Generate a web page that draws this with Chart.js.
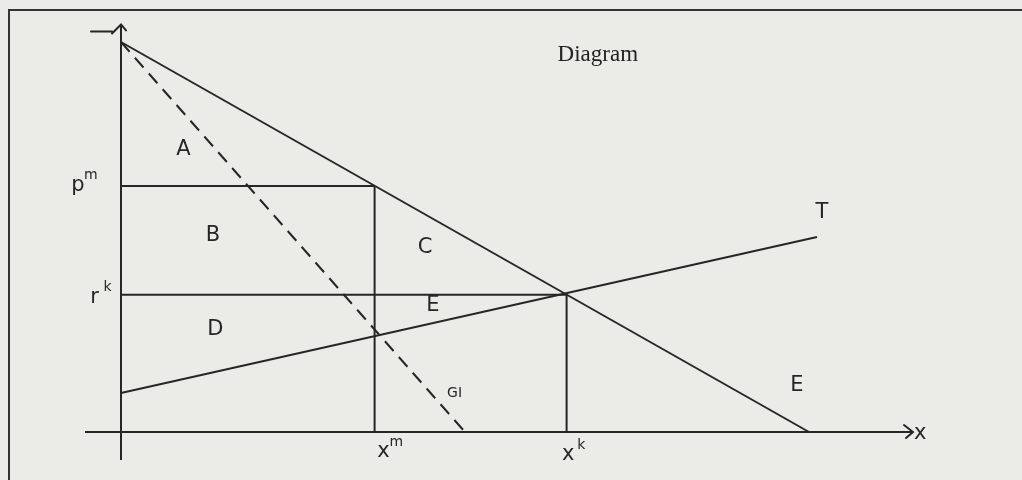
<!DOCTYPE html>
<html>
<head>
<meta charset="utf-8">
<script src="https://cdn.jsdelivr.net/npm/chart.js@4.4.1/dist/chart.umd.min.js"></script>
<style>
  html, body { margin: 0; padding: 0; background: #ebebe8; }
  #wrap { width: 1022px; height: 480px; }
</style>
</head>
<body>
<div id="wrap"><canvas id="c" width="1022" height="480"></canvas></div>
<script>
// ---- data (economic units: quantity x, price y) ----
const demandX = [0, 8.6];
const demandY = [10, 0];
const giX = [0, 4.3];
const giY = [10, 0];
const tX = [0, 8.7];
const tY = [1.0, 5.0];
const pm = 6.31;      // monopoly price
const xm = 3.17;      // monopoly quantity
const rk = 3.52;      // price r^k
const xk = 5.57;      // quantity x^k
const yAxisX = [0, 0];
const yAxisY = [-0.72, 10.45];
const xAxisX = [-0.45, 9.9];
const xAxisY = [0, 0];

const labelText = ['A', 'B', 'C', 'D', 'E', 'E', 'T', 'GI', 'p', 'r', 'x', 'x', 'x'];
const labelSup  = ['',  '',  '',  '',  '',  '',  '',  '',   'm', 'k', 'm', 'k', ''];
const labelX    = [0.78, 1.15, 3.8, 1.18, 3.9, 8.45, 8.76, 4.17, -0.54, -0.33, 3.28, 5.59, 9.99];
const labelY    = [7.23, 5.05, 4.74, 2.62, 3.23, 1.2, 5.62, 1.0, 6.33, 3.46, -0.51, -0.59, -0.05];
const titleText = 'Diagram';
const titleX = 5.96;
const titleY = 9.67;

const ink = '#262626';
function seg(xs, ys) { return xs.map((x, i) => ({ x: x, y: ys[i] })); }
function line(data, extra) {
  return Object.assign({ data: data, showLine: true, borderColor: ink, borderWidth: 2,
    pointRadius: 0, clip: false, fill: false }, extra || {});
}

const datasets = [
  line(seg(yAxisX, yAxisY)),
  line(seg(xAxisX, xAxisY)),
  line(seg(demandX, demandY)),
  line(seg(giX, giY), { borderDash: [13, 8] }),
  line(seg(tX, tY), { borderWidth: 1.8 }),
  line(seg([0, xm], [pm, pm])),
  line(seg([xm, xm], [pm, 0])),
  line(seg([0, xk], [rk, rk])),
  line(seg([xk, xk], [rk, 0]))
];

const decor = {
  id: 'decor',
  beforeDraw(chart) {
    const ctx = chart.ctx;
    ctx.save();
    ctx.fillStyle = '#ebebe8';
    ctx.fillRect(0, 0, chart.width, chart.height);
    ctx.strokeStyle = '#333';
    ctx.lineWidth = 2;
    ctx.beginPath();
    ctx.moveTo(9, 480); ctx.lineTo(9, 10); ctx.lineTo(1022, 10);
    ctx.stroke();
    ctx.restore();
  },
  afterDatasetsDraw(chart) {
    const ctx = chart.ctx, sx = chart.scales.x, sy = chart.scales.y;
    ctx.save();
    ctx.strokeStyle = ink;
    ctx.lineWidth = 2;
    ctx.lineCap = 'round';
    // y-axis arrow head
    const ytx = sx.getPixelForValue(yAxisX[1]), yty = sy.getPixelForValue(yAxisY[1]);
    ctx.beginPath();
    ctx.moveTo(ytx - 9, yty + 9); ctx.lineTo(ytx, yty); ctx.lineTo(ytx + 5, yty + 6);
    ctx.moveTo(ytx - 30, yty + 7); ctx.lineTo(ytx - 9, yty + 7);
    ctx.stroke();
    // x-axis arrow head
    const xtx = sx.getPixelForValue(xAxisX[1]), xty = sy.getPixelForValue(xAxisY[1]);
    ctx.beginPath();
    ctx.moveTo(xtx - 9, xty - 7); ctx.lineTo(xtx, xty); ctx.lineTo(xtx - 7, xty + 6);
    ctx.stroke();
    // labels
    ctx.fillStyle = ink;
    ctx.textAlign = 'center';
    ctx.textBaseline = 'middle';
    labelText.forEach((t, i) => {
      const px = sx.getPixelForValue(labelX[i]), py = sy.getPixelForValue(labelY[i]);
      ctx.font = (t === 'GI' ? '14px' : '21px') + ' "DejaVu Sans"';
      ctx.fillText(t, px, py);
      if (labelSup[i]) {
        ctx.font = '14px "DejaVu Sans"';
        ctx.fillText(labelSup[i], px + 13, py - 10);
      }
    });
    ctx.font = '23px "Liberation Serif"';
    ctx.fillStyle = '#222';
    ctx.fillText(titleText, sx.getPixelForValue(titleX), sy.getPixelForValue(titleY));
    ctx.restore();
  }
};

new Chart(document.getElementById('c'), {
  type: 'scatter',
  data: { datasets: datasets },
  options: {
    responsive: false,
    animation: false,
    layout: { padding: { left: 121, right: 101, top: 42, bottom: 48 } },
    plugins: { legend: { display: false }, tooltip: { enabled: false }, title: { display: false } },
    scales: {
      x: { type: 'linear', min: 0, max: 10, display: false },
      y: { type: 'linear', min: 0, max: 10, display: false }
    }
  },
  plugins: [decor]
});
</script>
</body>
</html>
